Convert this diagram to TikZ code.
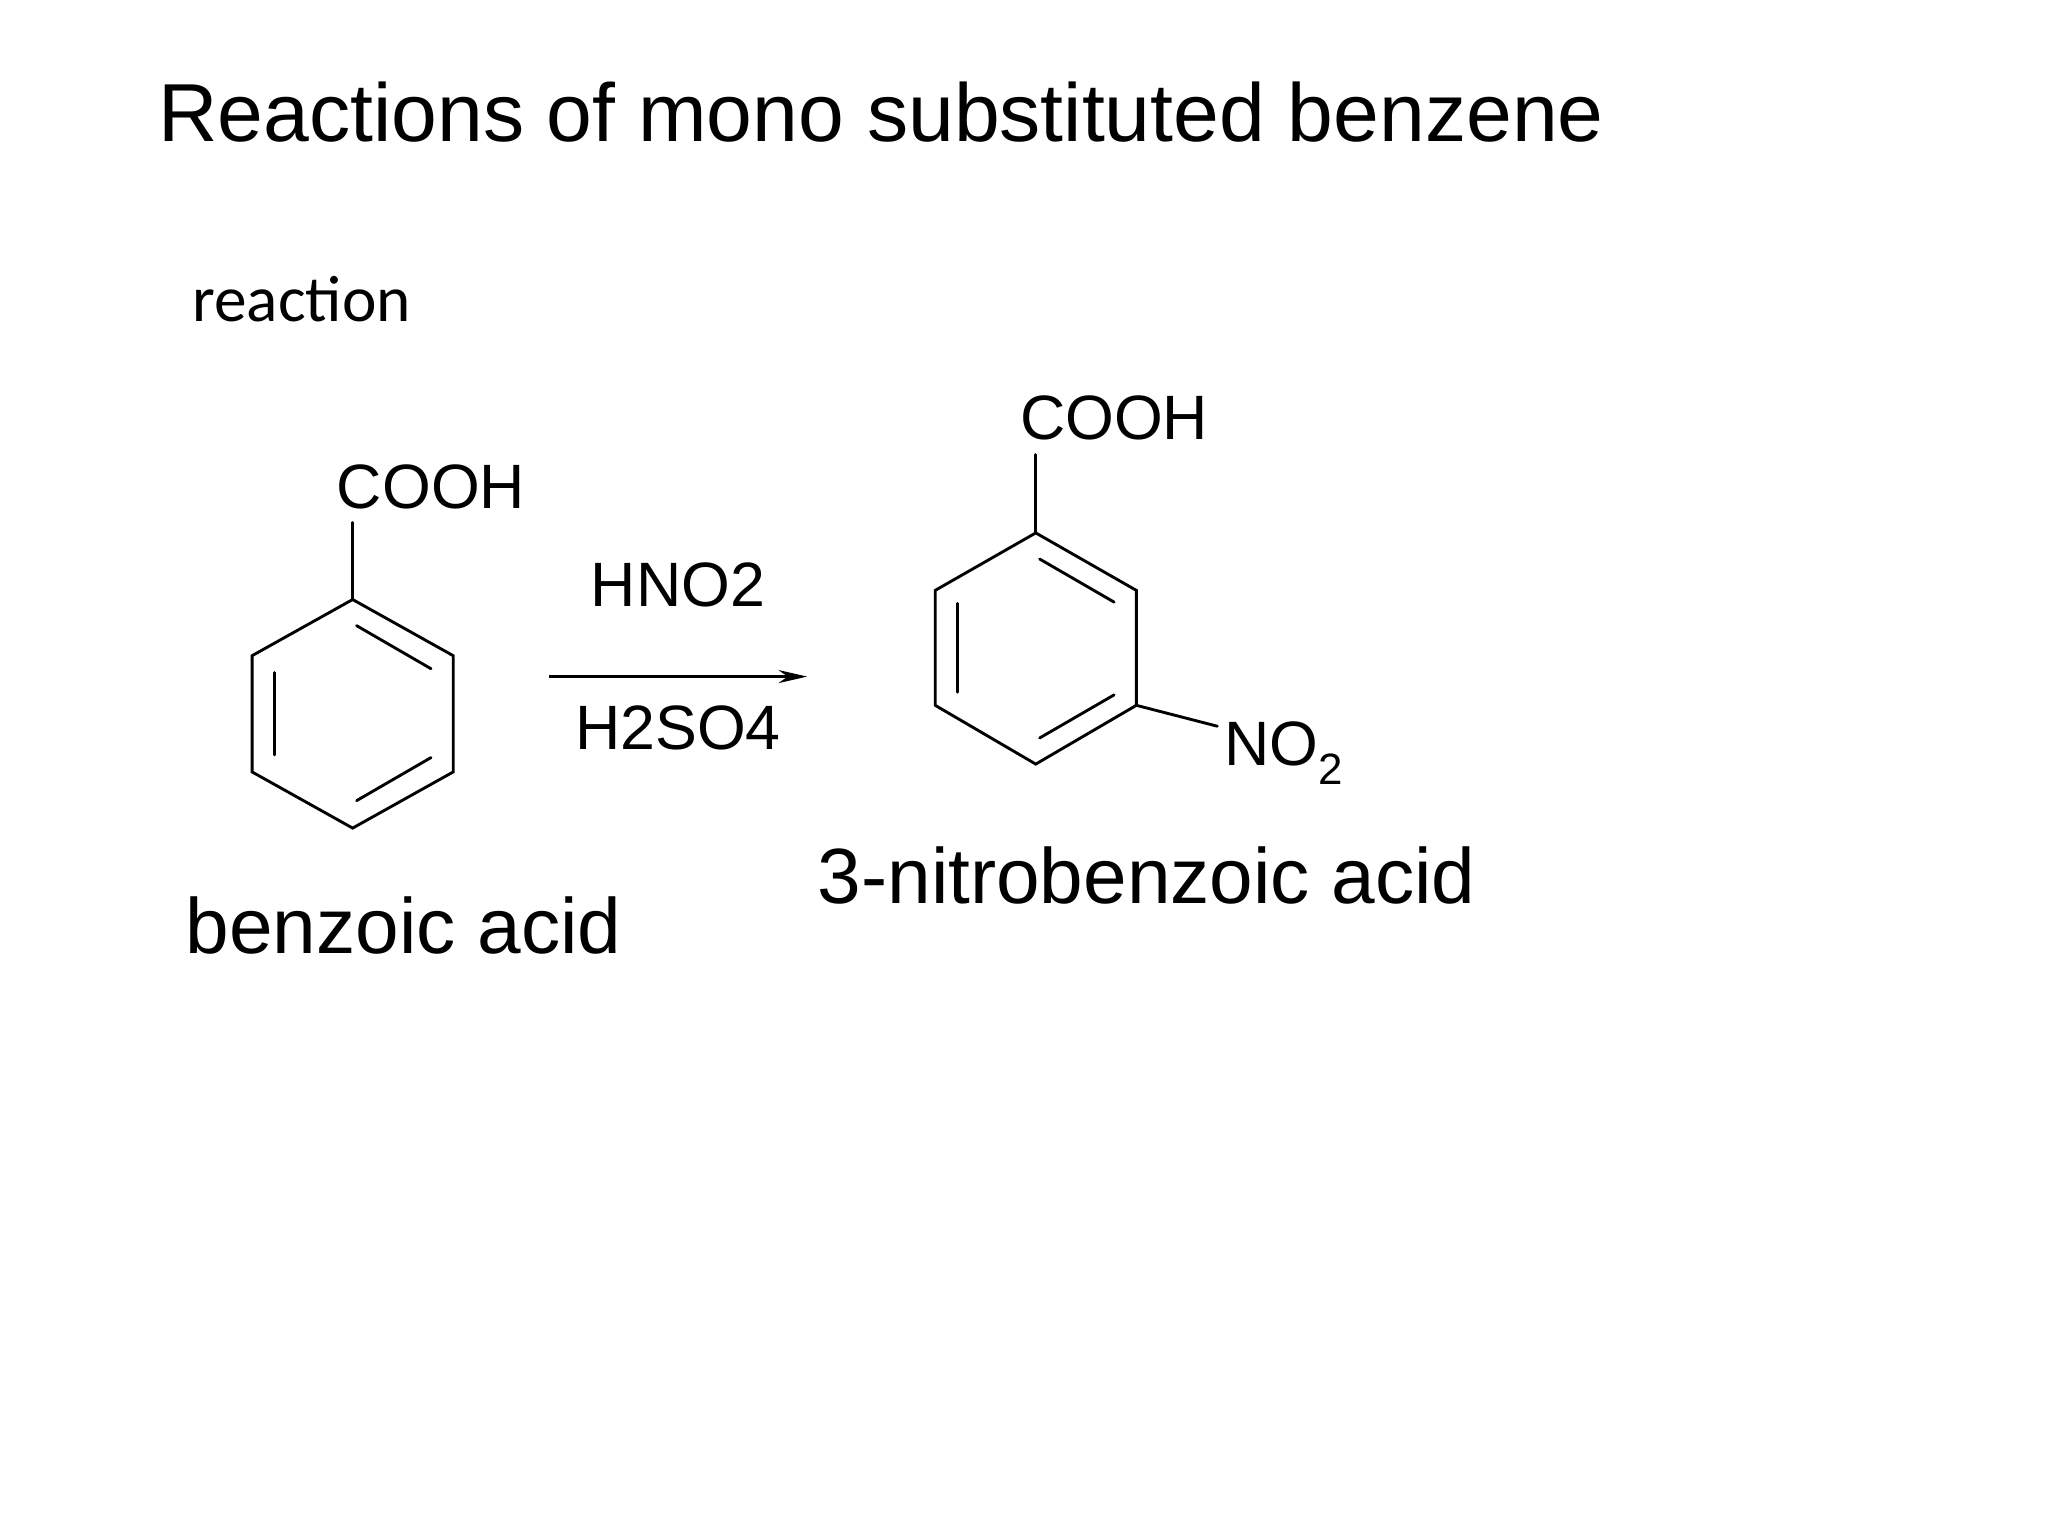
\documentclass[tikz,border=0pt]{standalone}
\usepackage{fontspec}
\setmainfont{Liberation Sans}
\newfontfamily\carlitofont{Carlito}
\usetikzlibrary{arrows.meta}
\begin{document}
\begin{tikzpicture}[x=1pt,y=-1pt,
  bond/.style={line width=2.2pt,line cap=round},
  lbl/.style={inner sep=0pt,font=\fontsize{48}{52}\selectfont}]
\useasboundingbox (0,0) rectangle (1568,1176);
\node[anchor=base west,inner sep=0pt,font=\fontsize{63}{70}\selectfont] (title) at (121,108) {Reactions of mono substituted benzene};
\node[anchor=base west,inner sep=0pt,font=\carlitofont\fontsize{50}{56}\selectfont] (rx) at (147,246) {reaction};
% benzene 1
\draw[bond] (270,459) -- (347,502) -- (347,591) -- (270,634) -- (193,591) -- (193,502) -- cycle;
\draw[bond] (273,479) -- (330,512);
\draw[bond] (273,613) -- (330,580);
\draw[bond] (210,515) -- (210,578);
\draw[bond] (270,459) -- (270,400);
\node[lbl] (c1) at (330,373) {COOH};
% arrow
\coordinate (a1) at (420,518);
\coordinate (a2) at (618,518);
\draw[line width=2.2pt,-{Stealth[length=22pt,width=10pt]}] (a1) -- (a2);
\node[lbl] (r1) at (519,448) {HNO2};
\node[lbl] (r2) at (519,557) {H2SO4};
% benzene 2
\draw[bond] (793,408) -- (870,452) -- (870,540) -- (793,585) -- (716,540) -- (716,452) -- cycle;
\draw[bond] (796,428) -- (853,461);
\draw[bond] (796,565) -- (853,532);
\draw[bond] (733,462) -- (733,530);
\draw[bond] (793,408) -- (793,348);
\draw[bond] (870,540) -- (932,556);
\node[lbl] (c2) at (853,320) {COOH};
\node[lbl,anchor=base west] (n2) at (937,586) {NO\textsubscript{2}};
\node[anchor=base west,inner sep=0pt,font=\fontsize{60}{66}\selectfont] (b1) at (142,730) {benzoic acid};
\node[anchor=base west,inner sep=0pt,font=\fontsize{60}{66}\selectfont] (b2) at (626,692) {3-nitrobenzoic acid};
\end{tikzpicture}
\end{document}
